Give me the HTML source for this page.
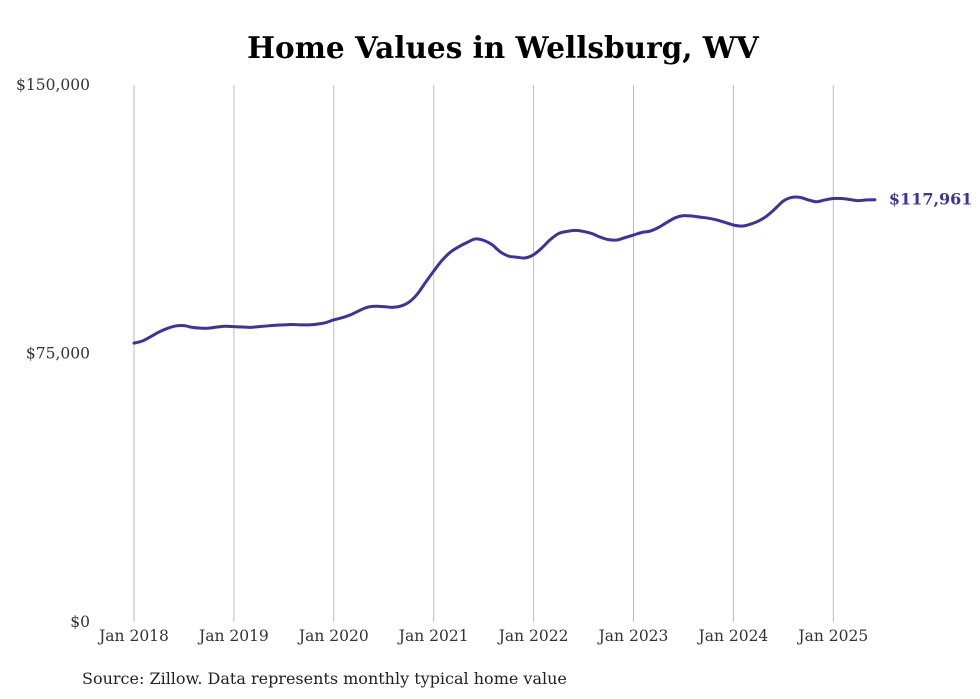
<!DOCTYPE html>
<html><head><meta charset="utf-8"><style>
body{margin:0;background:#fff;}
svg{display:block;font-family:"DejaVu Serif","Liberation Serif",serif;}
</style></head><body>
<svg id="chart" width="980" height="699">
<text x="503" y="58" text-anchor="middle" font-size="29.5" font-weight="bold" fill="#000">Home Values in Wellsburg, WV</text>
<g id="grid"></g><g id="yticks"></g><g id="xticks"></g><g id="series"></g>
<text x="82" y="684" font-size="16" fill="#222">Source: Zillow. Data represents monthly typical home value</text>
</svg>
<script>
const yTickValues=[0,75000,150000];
const yTickLabels=["$0","$75,000","$150,000"];
const xTickYears=[2018,2019,2020,2021,2022,2023,2024,2025];
const xTickLabels=["Jan 2018","Jan 2019","Jan 2020","Jan 2021","Jan 2022","Jan 2023","Jan 2024","Jan 2025"];
const values2018=[77.9,78.5,79.7,81.0,82.0,82.7,82.8,82.3,82.1,82.1,82.4,82.6];
const values2019=[82.5,82.4,82.3,82.5,82.7,82.9,83.0,83.1,83.0,83.0,83.2,83.6];
const values2020=[84.4,85.0,85.8,86.9,87.9,88.2,88.1,87.9,88.2,89.3,91.5,94.8];
const values2021=[98.0,101.0,103.3,104.8,106.0,107.0,106.6,105.4,103.4,102.2,101.9,101.7];
const values2022=[102.6,104.5,106.8,108.5,109.1,109.4,109.1,108.5,107.5,106.8,106.7,107.4];
const values2023=[108.1,108.8,109.2,110.2,111.6,112.9,113.5,113.4,113.1,112.8,112.3,111.6];
const values2024=[110.9,110.6,111.1,112.0,113.4,115.4,117.6,118.6,118.6,117.9,117.4,117.9];
const values2025=[118.3,118.3,118.0,117.7,117.9,117.961];
const lastLabel="$117,961";

const NS="http://www.w3.org/2000/svg";
const x0=134,xPerYear=99.9,y0=622,yTop=85,yMax=150000;
const xScale=m=>x0+m*xPerYear/12;
const yScale=v=>y0-(v/yMax)*(y0-yTop);
function mk(tag,attrs,parent){const e=document.createElementNS(NS,tag);for(const k in attrs)e.setAttribute(k,attrs[k]);parent.appendChild(e);return e;}
const grid=document.getElementById('grid'),yt=document.getElementById('yticks'),xt=document.getElementById('xticks'),ser=document.getElementById('series');
xTickYears.forEach((yr,i)=>{
  const x=xScale((yr-2018)*12);
  const l=mk('line',{x1:x,x2:x,y1:yTop,y2:y0,stroke:'#bdbdbd','stroke-width':1},grid);
  
  
  const t=mk('text',{x:x,y:641,'text-anchor':'middle','font-size':15.5,fill:'#333'},xt);
  t.textContent=xTickLabels[i];
  
  
});
yTickValues.forEach((v,i)=>{
  const t=mk('text',{x:90,y:yScale(v)+5,'text-anchor':'end','font-size':15.5,fill:'#333'},yt);
  t.textContent=yTickLabels[i];
  
  
});
const all=[].concat(values2018,values2019,values2020,values2021,values2022,values2023,values2024,values2025);
const pts=all.map((v,i)=>[xScale(i),yScale(v*1000)]);
let d='M'+pts[0][0]+','+pts[0][1];
for(let i=1;i<pts.length;i++){
  const p0=pts[Math.max(0,i-2)],p1=pts[i-1],p2=pts[i],p3=pts[Math.min(pts.length-1,i+1)];
  const c1=[p1[0]+(p2[0]-p0[0])/6,p1[1]+(p2[1]-p0[1])/6],c2=[p2[0]-(p3[0]-p1[0])/6,p2[1]-(p3[1]-p1[1])/6];
  d+=' C'+c1+' '+c2+' '+p2;
}
const path=mk('path',{d:d,fill:'none',stroke:'#3a33a0','stroke-width':3,'stroke-linejoin':'round','stroke-linecap':'round'},ser);


const last=pts[pts.length-1];
const lab=mk('text',{x:last[0]+14,y:last[1]+5,'font-size':16,'font-weight':'bold',fill:'#3a33a0'},ser);
lab.textContent=lastLabel;


</script>
</body></html>
